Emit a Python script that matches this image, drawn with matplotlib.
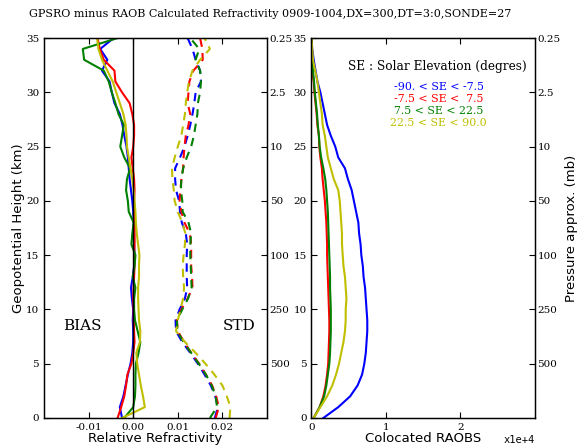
import matplotlib
matplotlib.use('Agg')
import matplotlib.pyplot as plt
from matplotlib.ticker import FuncFormatter

# height levels (km)
heights = list(range(0, 36))

# relative refractivity bias (GPSRO - RAOB)/RAOB, per solar elevation class
bias_night = [-0.0025, -0.0030, -0.0022, -0.0017, -0.0012, -0.0006, -0.0002, 0.0000, 0.0000, -0.0001,
              0.0000, -0.0003, -0.0005, -0.0001, 0.0002, 0.0003, 0.0002, 0.0002, 0.0001, 0.0000,
              -0.0002, -0.0005, -0.0008, -0.0010, -0.0012, -0.0015, -0.0020, -0.0024, -0.0030, -0.0042,
              -0.0048, -0.0053, -0.0070, -0.0058, -0.0074, -0.0044]
bias_twilight = [-0.0035, -0.0027, -0.0020, -0.0016, -0.0013, -0.0004, 0.0000, 0.0003, 0.0002, 0.0001,
                 0.0001, 0.0000, 0.0001, 0.0002, 0.0003, 0.0002, 0.0003, 0.0003, 0.0004, 0.0003,
                 0.0002, 0.0003, 0.0002, -0.0001, -0.0004, 0.0000, 0.0002, 0.0002, -0.0002, -0.0008,
                 -0.0025, -0.0040, -0.0042, -0.0066, -0.0075, -0.0080]
bias_low_sun = [-0.0020, 0.0000, 0.0004, 0.0005, 0.0005, 0.0006, 0.0012, 0.0016, 0.0010, 0.0004,
                0.0002, 0.0002, 0.0005, -0.0001, 0.0003, 0.0005, -0.0004, -0.0002, 0.0001, -0.0010,
                -0.0012, -0.0016, -0.0014, -0.0007, -0.0020, -0.0029, -0.0025, -0.0021, -0.0033, -0.0040,
                -0.0048, -0.0055, -0.0066, -0.0110, -0.0113, -0.0035]
bias_high_sun = [-0.0025, 0.0026, 0.0022, 0.0017, 0.0013, 0.0009, 0.0007, 0.0015, 0.0016, 0.0013,
                 0.0012, 0.0011, 0.0011, 0.0013, 0.0013, 0.0014, 0.0011, 0.0008, 0.0006, 0.0005,
                 0.0003, 0.0001, -0.0002, -0.0006, -0.0010, -0.0014, -0.0015, -0.0017, -0.0022, -0.0030,
                 -0.0038, -0.0046, -0.0058, -0.0070, -0.0078, -0.0081]

# standard deviation of relative refractivity difference
std_night = [0.0183, 0.0190, 0.0184, 0.0174, 0.0160, 0.0145, 0.0128, 0.0110, 0.0096, 0.0095,
             0.0104, 0.0116, 0.0121, 0.0120, 0.0120, 0.0120, 0.0121, 0.0118, 0.0109, 0.0105,
             0.0103, 0.0096, 0.0094, 0.0094, 0.0105, 0.0115, 0.0122, 0.0128, 0.0133, 0.0137,
             0.0140, 0.0152, 0.0150, 0.0140, 0.0133, 0.0122]
std_twilight = [0.0185, 0.0192, 0.0186, 0.0177, 0.0163, 0.0148, 0.0130, 0.0114, 0.0100, 0.0098,
                0.0108, 0.0122, 0.0133, 0.0132, 0.0130, 0.0130, 0.0130, 0.0127, 0.0115, 0.0108,
                0.0104, 0.0106, 0.0108, 0.0112, 0.0113, 0.0115, 0.0118, 0.0124, 0.0128, 0.0122,
                0.0124, 0.0126, 0.0135, 0.0156, 0.0155, 0.0150]
std_low_sun = [0.0172, 0.0188, 0.0185, 0.0176, 0.0163, 0.0147, 0.0130, 0.0113, 0.0099, 0.0098,
               0.0110, 0.0123, 0.0131, 0.0130, 0.0129, 0.0128, 0.0128, 0.0130, 0.0124, 0.0111,
               0.0110, 0.0107, 0.0108, 0.0112, 0.0120, 0.0130, 0.0136, 0.0140, 0.0144, 0.0145,
               0.0150, 0.0152, 0.0150, 0.0140, 0.0148, 0.0128]
std_high_sun = [0.0216, 0.0218, 0.0210, 0.0200, 0.0182, 0.0162, 0.0140, 0.0116, 0.0096, 0.0100,
                0.0106, 0.0112, 0.0114, 0.0112, 0.0111, 0.0113, 0.0116, 0.0117, 0.0110, 0.0100,
                0.0093, 0.0091, 0.0088, 0.0087, 0.0093, 0.0100, 0.0108, 0.0112, 0.0116, 0.0118,
                0.0121, 0.0125, 0.0133, 0.0150, 0.0172, 0.0160]

# number of colocated raobs
count_night = [1600, 3600, 5200, 6200, 6800, 7100, 7300, 7400, 7500, 7500,
               7400, 7300, 7200, 7000, 6900, 6700, 6600, 6400, 6300, 6000,
               5700, 5400, 4900, 4500, 3600, 3200, 2600, 2100, 1800, 1500,
               1200, 800, 550, 300, 100, 0]
count_twilight = [300, 1100, 1600, 1900, 2100, 2250, 2300, 2350, 2400, 2400,
                  2350, 2300, 2250, 2200, 2150, 2100, 2100, 2050, 2000, 1900,
                  1800, 1650, 1500, 1400, 1200, 1050, 1000, 800, 700, 550,
                  400, 300, 100, 0, 0, 0]
count_low_sun = [300, 1100, 1700, 2000, 2200, 2400, 2500, 2550, 2600, 2600,
                 2600, 2550, 2500, 2500, 2450, 2400, 2350, 2300, 2250, 2200,
                 2100, 2000, 1850, 1600, 1300, 1100, 1000, 850, 750, 600,
                 450, 350, 200, 50, 0, 0]
count_high_sun = [300, 1200, 2100, 2800, 3300, 3700, 4000, 4300, 4500, 4600,
                  4600, 4700, 4600, 4500, 4300, 4200, 4100, 4100, 4000, 3900,
                  3800, 3600, 3000, 2600, 2200, 2000, 1800, 1500, 1400, 1200,
                  1000, 800, 500, 200, 100, 0]

se_labels = ['-90. < SE < -7.5', '-7.5 < SE <  7.5', '7.5 < SE < 22.5', '22.5 < SE < 90.0']
colors = ['#0000ff', '#ff0000', '#008000', '#bfbf00']

pres_heights = [5, 10, 15, 20, 25, 30, 35]
pres_labels = ['500', '250', '100', '50', '10', '2.5', '0.25']

title = 'GPSRO minus RAOB Calculated Refractivity 0909-1004,DX=300,DT=3:0,SONDE=27'

serif = 'DejaVu Serif'
sans = 'DejaVu Sans'
tick_fs = 7.5
label_fs = 9.5

biases = [bias_night, bias_twilight, bias_low_sun, bias_high_sun]
stds = [std_night, std_twilight, std_low_sun, std_high_sun]
counts = [count_night, count_twilight, count_low_sun, count_high_sun]

fig = plt.figure(figsize=(5.8, 4.48), dpi=100)
ax1 = fig.add_axes([0.0759, 0.067, 0.3844, 0.848])
ax2 = fig.add_axes([0.537, 0.067, 0.385, 0.848])


def style_axis(ax):
    ax.tick_params(direction='in', length=4, width=0.8, top=True, labelsize=tick_fs)
    for lab in ax.get_xticklabels() + ax.get_yticklabels():
        lab.set_family(serif)
    for sp in ax.spines.values():
        sp.set_linewidth(1.0)


def add_pressure_axis(ax):
    axp = ax.twinx()
    axp.set_ylim(0, 35)
    axp.set_yticks(pres_heights)
    axp.set_yticklabels(pres_labels, family=serif, fontsize=tick_fs)
    axp.tick_params(direction='in', length=4, width=0.8, pad=2)
    return axp


# bias and std panel
for b, s, c in zip(biases, stds, colors):
    ax1.plot(b, heights, color=c, lw=1.5)
    ax1.plot(s, heights, color=c, lw=1.5, dashes=(4, 3))
ax1.axvline(0.0, color='k', lw=1.0)
ax1.set_xlim(-0.02, 0.03)
ax1.set_ylim(0, 35)
ax1.set_xticks([-0.01, 0.0, 0.01, 0.02])
ax1.set_xticklabels(['-0.01', '0.00', '0.01', '0.02'])
ax1.set_yticks(range(0, 36, 5))
style_axis(ax1)
ax1.set_xlabel('Relative Refractivity', family=sans, fontsize=label_fs, labelpad=0)
ax1.set_ylabel('Geopotential Height (km)', family=sans, fontsize=label_fs, labelpad=1)
ax1.text(-0.0113, 8.5, 'BIAS', family=serif, fontsize=11, ha='center', va='center')
ax1.text(0.0237, 8.5, 'STD', family=serif, fontsize=11, ha='center', va='center')
add_pressure_axis(ax1)

# colocation count panel
for n, c in zip(counts, colors):
    ax2.plot(n, heights, color=c, lw=1.5)
ax2.set_xlim(0, 30000)
ax2.set_ylim(0, 35)
ax2.set_xticks([0, 10000, 20000])
ax2.xaxis.set_major_formatter(FuncFormatter(lambda v, p: '%d' % round(v / 1e4)))
ax2.set_yticks(range(0, 36, 5))
style_axis(ax2)
ax2.set_xlabel('Colocated RAOBS', family=sans, fontsize=label_fs, labelpad=0)
ax2.text(1.0, -0.045, 'x1e+4', transform=ax2.transAxes, family='DejaVu Sans Mono',
         fontsize=7.5, ha='right', va='top')
axp2 = add_pressure_axis(ax2)
axp2.set_ylabel('Pressure approx. (mb)', family=sans, fontsize=label_fs, labelpad=3)

ax2.text(0.964, 0.925, 'SE : Solar Elevation (degres)', transform=ax2.transAxes,
         family=serif, fontsize=8.7, ha='right', va='center')
for i, (lab, c) in enumerate(zip(se_labels, colors)):
    ax2.text(0.57, 0.872 - i * 0.032, lab, transform=ax2.transAxes, color=c,
             family=serif, fontsize=7.9, ha='center', va='center')

fig.text(0.05, 0.969, title, family=serif, fontsize=8, ha='left', va='center')

fig.savefig('out.png', dpi=100)
